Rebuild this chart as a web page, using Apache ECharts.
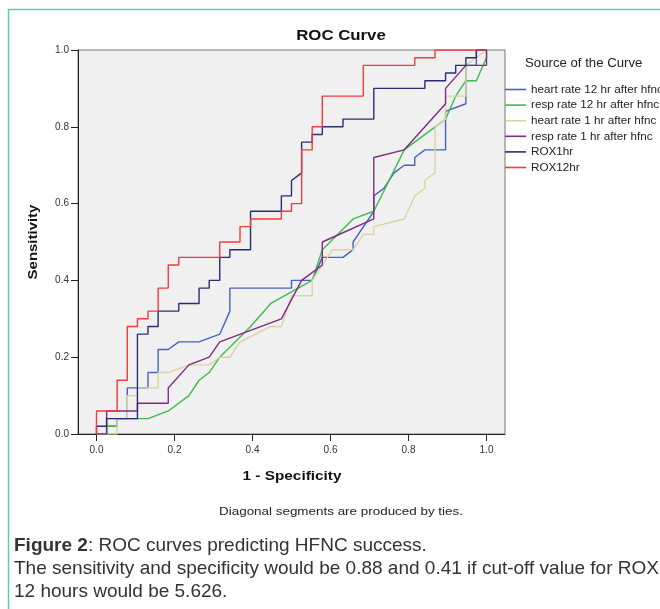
<!DOCTYPE html>
<html>
<head>
<meta charset="utf-8">
<script src="https://cdn.jsdelivr.net/npm/echarts@6/dist/echarts.min.js"></script>
<style>
  html, body { margin: 0; padding: 0; background: #fff; }
  #chart { width: 660px; height: 609px; }
</style>
</head>
<body>
<div id="chart"></div>
<script>
// legend names, same order as the reference
const seriesNames = [
  'heart rate 12 hr after hfnc',
  'resp rate 12 hr after hfnc',
  'heart rate 1 hr after hfnc',
  'resp rate 1 hr after hfnc',
  'ROX1hr',
  'ROX12hr'
]
const tickValues = [0, 0.2, 0.4, 0.6, 0.8, 1.0]

// [1 - specificity, sensitivity] points
const heartRate12 = [
  [0, 0], [0.026, 0], [0.026, 0.02], [0.053, 0.02], [0.053, 0.04], [0.079, 0.04],
  [0.079, 0.12], [0.132, 0.12], [0.132, 0.16], [0.158, 0.16], [0.158, 0.22], [0.184, 0.22],
  [0.211, 0.24], [0.263, 0.24], [0.316, 0.26], [0.342, 0.32], [0.342, 0.38], [0.5, 0.38],
  [0.5, 0.40], [0.553, 0.40], [0.579, 0.46], [0.632, 0.46], [0.658, 0.48], [0.658, 0.50],
  [0.711, 0.58], [0.711, 0.62], [0.737, 0.64], [0.763, 0.68], [0.789, 0.70], [0.816, 0.70],
  [0.816, 0.72], [0.842, 0.74], [0.895, 0.74], [0.895, 0.84], [0.947, 0.86], [0.947, 0.96],
  [0.974, 0.96], [0.974, 1], [1, 1]
]
const respRate12 = [
  [0, 0], [0.026, 0], [0.026, 0.02], [0.053, 0.02], [0.053, 0.04], [0.132, 0.04],
  [0.184, 0.06], [0.237, 0.10], [0.263, 0.14], [0.289, 0.16], [0.316, 0.20], [0.395, 0.28],
  [0.447, 0.34], [0.553, 0.40], [0.579, 0.48], [0.658, 0.56], [0.711, 0.58], [0.789, 0.74],
  [0.895, 0.82], [0.921, 0.88], [0.947, 0.92], [0.974, 0.92], [1, 0.98], [1, 1]
]
const heartRate1 = [
  [0, 0], [0.053, 0], [0.053, 0.04], [0.079, 0.04], [0.079, 0.10], [0.105, 0.10],
  [0.105, 0.12], [0.158, 0.12], [0.158, 0.16], [0.184, 0.16], [0.237, 0.18], [0.289, 0.18],
  [0.316, 0.20], [0.342, 0.20], [0.368, 0.24], [0.447, 0.28], [0.474, 0.28], [0.5, 0.36],
  [0.553, 0.36], [0.553, 0.40], [0.579, 0.44], [0.605, 0.48], [0.658, 0.48], [0.684, 0.52],
  [0.711, 0.52], [0.711, 0.54], [0.789, 0.56], [0.816, 0.62], [0.842, 0.64], [0.842, 0.66],
  [0.868, 0.68], [0.868, 0.80], [0.895, 0.82], [0.895, 0.88], [0.947, 0.88], [0.947, 0.96],
  [1, 1]
]
const respRate1 = [
  [0, 0], [0.026, 0], [0.026, 0.06], [0.105, 0.06], [0.105, 0.08], [0.184, 0.08],
  [0.184, 0.12], [0.237, 0.18], [0.289, 0.20], [0.316, 0.24], [0.474, 0.30], [0.526, 0.40],
  [0.579, 0.44], [0.579, 0.50], [0.711, 0.56], [0.711, 0.72], [0.789, 0.74], [0.895, 0.86],
  [0.895, 0.90], [0.947, 0.96], [1, 0.96], [1, 1]
]
const rox1 = [
  [0, 0], [0, 0.02], [0.026, 0.02], [0.026, 0.04], [0.105, 0.04], [0.105, 0.26],
  [0.132, 0.26], [0.132, 0.28], [0.158, 0.28], [0.158, 0.32], [0.211, 0.32], [0.211, 0.34],
  [0.263, 0.34], [0.263, 0.38], [0.289, 0.38], [0.289, 0.40], [0.316, 0.40], [0.316, 0.46],
  [0.342, 0.46], [0.342, 0.48], [0.395, 0.48], [0.395, 0.58], [0.474, 0.58], [0.474, 0.62],
  [0.5, 0.62], [0.5, 0.66], [0.526, 0.68], [0.526, 0.76], [0.553, 0.76], [0.553, 0.78],
  [0.579, 0.78], [0.579, 0.80], [0.632, 0.80], [0.632, 0.82], [0.711, 0.82], [0.711, 0.90],
  [0.842, 0.90], [0.842, 0.92], [0.895, 0.92], [0.895, 0.94], [0.921, 0.94], [0.921, 0.96],
  [0.947, 0.96], [0.947, 0.98], [0.974, 0.98], [0.974, 1], [1, 1]
]
const rox12 = [
  [0, 0], [0, 0.06], [0.053, 0.06], [0.053, 0.14], [0.079, 0.14], [0.079, 0.28],
  [0.105, 0.28], [0.105, 0.30], [0.132, 0.30], [0.132, 0.32], [0.158, 0.32], [0.158, 0.38],
  [0.184, 0.38], [0.184, 0.44], [0.211, 0.44], [0.211, 0.46], [0.316, 0.46], [0.316, 0.50],
  [0.368, 0.50], [0.368, 0.54], [0.395, 0.54], [0.395, 0.56], [0.474, 0.56], [0.474, 0.58],
  [0.5, 0.58], [0.5, 0.60], [0.526, 0.60], [0.526, 0.74], [0.553, 0.74], [0.553, 0.80],
  [0.579, 0.80], [0.579, 0.88], [0.684, 0.88], [0.684, 0.96], [0.816, 0.96], [0.816, 0.98],
  [0.868, 0.98], [0.868, 1], [1, 1]
]

const allData = [heartRate12, respRate12, heartRate1, respRate1, rox1, rox12]
const colorArr = ['#4661c0', '#3dbb4c', '#d9d3a3', '#7d2b82', '#2b2c73', '#f63a3a']
const fontFamily = 'Liberation Sans, Arial, sans-serif'

const chartInstance = echarts.init(document.getElementById('chart'), null, { renderer: 'canvas' })

const seriesArr = allData.map((item, index) => {
  return {
    name: seriesNames[index],
    type: 'line',
    data: item,
    showSymbol: false,
    symbol: 'none',
    clip: true,
    lineStyle: { color: colorArr[index], width: 1.4 },
    itemStyle: { color: colorArr[index] }
  }
})

// SPSS text is a little wider than Liberation Sans, so stretch it sideways
const textItem = (text, x, y, font, opts) => Object.assign({
  type: 'text',
  x: x,
  y: y,
  silent: true,
  style: Object.assign({
    text: text,
    font: font,
    fill: '#111',
    textAlign: 'center',
    textVerticalAlign: 'middle'
  }, (opts && opts.style) || {})
}, (opts && opts.el) || {})

const option = {
  backgroundColor: '#fff',
  animation: false,
  textStyle: { fontFamily: fontFamily },
  grid: {
    left: 78,
    top: 50,
    width: 427,
    height: 384,
    show: true,
    backgroundColor: '#f0f0f0',
    borderColor: '#777',
    borderWidth: 1
  },
  legend: {
    data: seriesNames,
    orient: 'vertical',
    left: 505,
    top: 83,
    padding: 0,
    icon: 'rect',
    itemWidth: 21,
    itemHeight: 1.6,
    itemGap: 2.6,
    textStyle: { fontSize: 11.7, color: '#222', fontFamily: fontFamily, lineHeight: 13 }
  },
  xAxis: {
    type: 'value',
    min: -0.0474,
    max: 1.0474,
    splitLine: { show: false },
    axisLine: { show: true, onZero: false, lineStyle: { color: '#222', width: 1 } },
    axisTick: { show: true, length: 7, customValues: tickValues, lineStyle: { color: '#222' } },
    axisLabel: {
      customValues: tickValues,
      formatter: v => v.toFixed(1),
      fontSize: 10,
      color: '#333',
      margin: 11
    }
  },
  yAxis: {
    type: 'value',
    min: 0,
    max: 1,
    interval: 0.2,
    splitLine: { show: false },
    axisLine: { show: true, onZero: false, lineStyle: { color: '#222', width: 1 } },
    axisTick: { show: true, length: 7, lineStyle: { color: '#222' } },
    axisLabel: {
      formatter: v => v.toFixed(1),
      fontSize: 10,
      color: '#333',
      margin: 9
    }
  },
  graphic: [
    {
      type: 'rect',
      silent: true,
      shape: { x: 8.5, y: 9.5, width: 720, height: 700 },
      style: { fill: 'none', stroke: '#5ccbb3', lineWidth: 1.5 }
    },
    textItem('ROC Curve', 341, 36, 'bold 15px ' + fontFamily, { el: { scaleX: 1.12 } }),
    textItem('Sensitivity', 33, 242, 'bold 13px ' + fontFamily, { el: { rotation: Math.PI / 2, scaleX: 1.15 } }),
    textItem('1 - Specificity', 292, 476, 'bold 13px ' + fontFamily, { el: { scaleX: 1.18 } }),
    textItem('Source of the Curve', 525, 64, '12px ' + fontFamily, { el: { scaleX: 1.1 }, style: { textAlign: 'left', fill: '#222' } }),
    textItem('Diagonal segments are produced by ties.', 341, 512, '11px ' + fontFamily, { el: { scaleX: 1.22 }, style: { fill: '#222' } }),
    textItem('{b|Figure 2}: ROC curves predicting HFNC success.', 14, 546, '19px ' + fontFamily, {
      style: {
        textAlign: 'left',
        fill: '#333',
        rich: { b: { fontWeight: 'bold', fontSize: 19, fontFamily: fontFamily, fill: '#333' } }
      }
    }),
    textItem('The sensitivity and specificity would be 0.88 and 0.41 if cut-off value for ROX', 14, 569, '19px ' + fontFamily, { style: { textAlign: 'left', fill: '#333' } }),
    textItem('12 hours would be 5.626.', 14, 592, '19px ' + fontFamily, { style: { textAlign: 'left', fill: '#333' } })
  ],
  series: seriesArr
}

chartInstance.setOption(option)
</script>
</body>
</html>
